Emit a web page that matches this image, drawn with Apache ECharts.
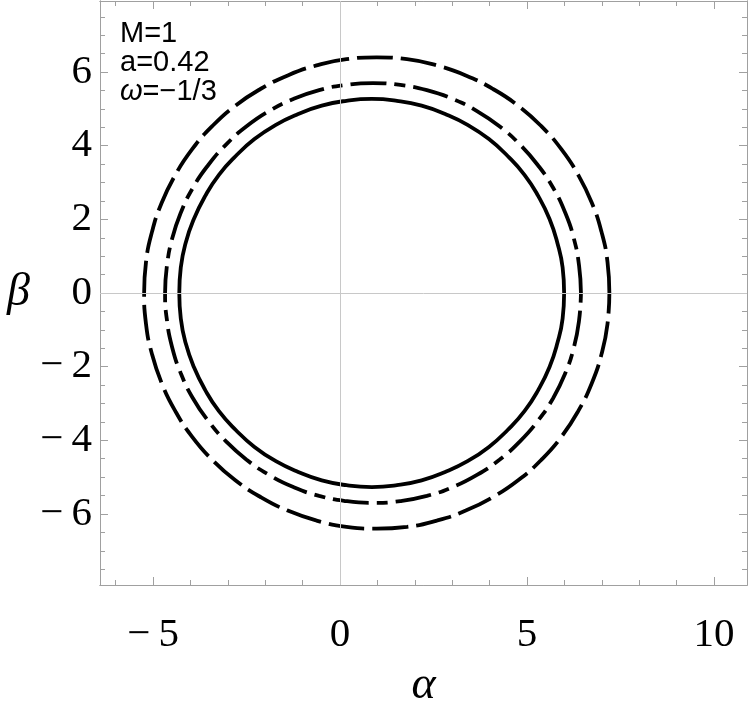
<!DOCTYPE html>
<html>
<head>
<meta charset="utf-8">
<script src="https://cdn.jsdelivr.net/npm/echarts@6/dist/echarts.min.js"></script>
<style>html,body{margin:0;padding:0;background:#fff}#c{width:750px;height:711px}</style>
</head>
<body>
<div id="c"></div>
<script>
// Data: [alpha, beta] points of each shadow contour
const solidCurve = [
  [5.99, 0], [5.95, 0.69], [5.81, 1.36], [5.60, 2.01], [5.30, 2.63], [4.93, 3.21], [4.48, 3.72],
  [3.98, 4.18], [3.42, 4.56], [2.81, 4.86], [2.18, 5.09], [1.52, 5.22], [0.85, 5.27],
  [0.17, 5.22], [-0.49, 5.09], [-1.12, 4.86], [-1.73, 4.56], [-2.29, 4.18], [-2.79, 3.72],
  [-3.24, 3.21], [-3.61, 2.63], [-3.91, 2.01], [-4.13, 1.36], [-4.26, 0.69], [-4.30, 0],
  [-4.26, -0.69], [-4.13, -1.36], [-3.91, -2.01], [-3.61, -2.63], [-3.24, -3.21], [-2.79, -3.72],
  [-2.29, -4.18], [-1.73, -4.56], [-1.12, -4.86], [-0.49, -5.09], [0.17, -5.22], [0.85, -5.27],
  [1.52, -5.22], [2.18, -5.09], [2.81, -4.86], [3.42, -4.56], [3.98, -4.18], [4.48, -3.72],
  [4.93, -3.21], [5.30, -2.63], [5.60, -2.01], [5.81, -1.36], [5.95, -0.69], [5.99, 0]
];
const dashDotCurve = [
  [6.44, 0], [6.39, 0.74], [6.25, 1.48], [6.02, 2.18], [5.70, 2.85], [5.29, 3.47], [4.81, 4.03],
  [4.27, 4.52], [3.66, 4.94], [3.01, 5.27], [2.32, 5.51], [1.61, 5.65], [0.88, 5.70],
  [0.15, 5.65], [-0.56, 5.51], [-1.25, 5.27], [-1.90, 4.94], [-2.51, 4.52], [-3.05, 4.03],
  [-3.53, 3.47], [-3.94, 2.85], [-4.26, 2.18], [-4.49, 1.48], [-4.63, 0.74], [-4.68, 0],
  [-4.63, -0.74], [-4.49, -1.48], [-4.26, -2.18], [-3.94, -2.85], [-3.53, -3.47], [-3.05, -4.03],
  [-2.51, -4.52], [-1.90, -4.94], [-1.25, -5.27], [-0.56, -5.51], [0.15, -5.65], [0.88, -5.70],
  [1.61, -5.65], [2.32, -5.51], [3.01, -5.27], [3.66, -4.94], [4.27, -4.52], [4.81, -4.03],
  [5.29, -3.47], [5.70, -2.85], [6.02, -2.18], [6.25, -1.48], [6.39, -0.74], [6.44, 0]
];
const dashedCurve = [
  [7.20, 0], [7.15, 0.84], [6.99, 1.66], [6.73, 2.45], [6.37, 3.20], [5.92, 3.90], [5.38, 4.53],
  [4.77, 5.08], [4.09, 5.54], [3.36, 5.91], [2.59, 6.18], [1.79, 6.35], [0.98, 6.40],
  [0.17, 6.35], [-0.63, 6.18], [-1.40, 5.91], [-2.13, 5.54], [-2.81, 5.08], [-3.42, 4.53],
  [-3.96, 3.90], [-4.41, 3.20], [-4.77, 2.45], [-5.03, 1.66], [-5.19, 0.84], [-5.24, 0],
  [-5.19, -0.84], [-5.03, -1.66], [-4.77, -2.45], [-4.41, -3.20], [-3.96, -3.90], [-3.42, -4.53],
  [-2.81, -5.08], [-2.13, -5.54], [-1.40, -5.91], [-0.63, -6.18], [0.17, -6.35], [0.98, -6.40],
  [1.79, -6.35], [2.59, -6.18], [3.36, -5.91], [4.09, -5.54], [4.77, -5.08], [5.38, -4.53],
  [5.92, -3.90], [6.37, -3.20], [6.73, -2.45], [6.99, -1.66], [7.15, -0.84], [7.20, 0]
];
const xMajorTicks = [-5, 0, 5, 10];
const xMinorTicks = [-6, -4, -3, -2, -1, 1, 2, 3, 4, 6, 7, 8, 9];
const yMajorTicks = [-6, -4, -2, 0, 2, 4, 6];
const yMinorTicks = [-7.5, -7, -6.5, -5.5, -5, -4.5, -3.5, -3, -2.5, -1.5, -1, -0.5,
                     0.5, 1, 1.5, 2.5, 3, 3.5, 4.5, 5, 5.5, 6.5, 7, 7.5];
const xRange = [-6.42, 10.88];
const yRange = [-7.93, 7.93];

const frameColor = '#a0a0a0';
const fmt = v => (v < 0 ? '\u2212\u2009' + Math.abs(v) : String(v));
const labelFont = {fontFamily: 'Liberation Serif', fontSize: 41, color: '#000'};
const nameFont = {fontFamily: 'Liberation Serif', fontStyle: 'italic', fontSize: 46, color: '#000'};

function xAx(pos, ticks, len, labels) {
  return {
    type: 'value', position: pos, min: xRange[0], max: xRange[1],
    axisLine: {show: true, onZero: false, lineStyle: {color: frameColor, width: 1}},
    axisTick: {show: true, inside: true, length: len, customValues: ticks, lineStyle: {color: frameColor, width: 1}},
    axisLabel: labels ? Object.assign({show: true, customValues: xMajorTicks, formatter: fmt, margin: 30}, labelFont) : {show: false},
    splitLine: {show: false},
    name: labels ? 'α' : '', nameLocation: 'middle', nameGap: 78, nameTextStyle: nameFont
  };
}
function yAx(pos, ticks, len, labels) {
  return {
    type: 'value', position: pos, min: yRange[0], max: yRange[1],
    axisLine: {show: true, onZero: false, lineStyle: {color: frameColor, width: 1}},
    axisTick: {show: true, inside: true, length: len, customValues: ticks, lineStyle: {color: frameColor, width: 1}},
    axisLabel: labels ? Object.assign({show: true, customValues: yMajorTicks, formatter: fmt, margin: 8}, labelFont) : {show: false},
    splitLine: {show: false},
    name: labels ? 'β' : '', nameLocation: 'middle', nameGap: 70, nameRotate: 0, nameTextStyle: nameFont
  };
}

const chart = echarts.init(document.getElementById('c'), null, {renderer: 'canvas'});
chart.setOption({
  animation: false,
  backgroundColor: '#fff',
  grid: {left: 100, top: 1, right: 3, bottom: 126, containLabel: false, outerBoundsMode: 'none'},
  xAxis: [
    xAx('bottom', xMajorTicks, 8, true),
    xAx('bottom', xMinorTicks, 5, false),
    xAx('top', xMajorTicks, 8, false),
    xAx('top', xMinorTicks, 5, false)
  ],
  yAxis: [
    yAx('left', yMajorTicks, 8, true),
    yAx('left', yMinorTicks, 5, false),
    yAx('right', yMajorTicks, 8, false),
    yAx('right', yMinorTicks, 5, false)
  ],
  graphic: [{
    type: 'text', left: 120, top: 19,
    style: {
      text: 'M=1\na=0.42\n{i|ω}=−1/3',
      fontFamily: 'Liberation Sans', fontSize: 29, lineHeight: 29, fill: '#000',
      rich: {i: {fontFamily: 'Liberation Sans', fontStyle: 'italic', fontSize: 29, lineHeight: 29, fill: '#000'}}
    }
  }],
  series: [
    {
      type: 'line', data: solidCurve, xAxisIndex: 0, yAxisIndex: 0, showSymbol: false, smooth: 0.5,
      lineStyle: {color: '#000', width: 3.8, type: 'solid'},
      markLine: {
        silent: true, symbol: 'none', label: {show: false},
        lineStyle: {color: '#c8c8c8', width: 1, type: 'solid'},
        data: [{xAxis: 0}, {yAxis: 0}]
      },
      z: 3
    },
    {
      type: 'line', data: dashDotCurve, xAxisIndex: 0, yAxisIndex: 0, showSymbol: false, smooth: 0.5,
      lineStyle: {color: '#000', width: 3.8, type: [36, 8, 11, 8], cap: 'butt'}, z: 3
    },
    {
      type: 'line', data: dashedCurve, xAxisIndex: 0, yAxisIndex: 0, showSymbol: false, smooth: 0.5,
      lineStyle: {color: '#000', width: 3.8, type: [36, 8], cap: 'butt'}, z: 3
    }
  ]
});
</script>
</body>
</html>
